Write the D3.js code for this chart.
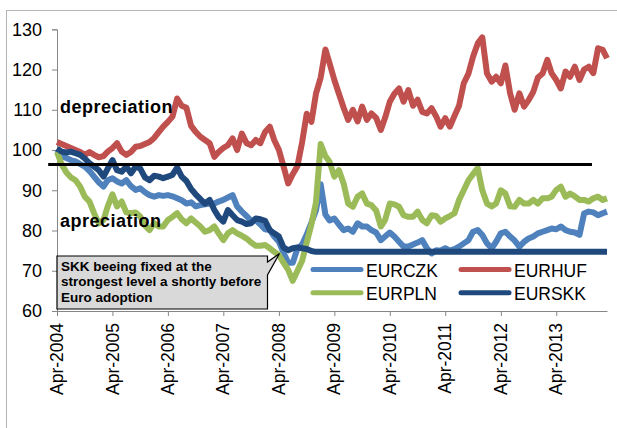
<!DOCTYPE html>
<html>
<head>
<meta charset="utf-8">
<script src="https://cdn.jsdelivr.net/npm/d3@7"></script>
<style>
  body { margin: 0; background: #fff; }
  svg { display: block; font-family: Arial, "Liberation Sans", sans-serif; }
</style>
</head>
<body>
<div id="chart"></div>
<script>
// monthly readings, Apr-2004 .. Mar-2014, index 100 = start
const firstMonth = "2004-04-01";
const lastMonth = "2014-03-01";
const tickYears = [2004, 2005, 2006, 2007, 2008, 2009, 2010, 2011, 2012, 2013];
const yTicks = [60, 70, 80, 90, 100, 110, 120, 130];
const seriesNames = ["EURCZK", "EURHUF", "EURPLN", "EURSKK"];

const eurczk = [
  100, 98.5, 98, 97.5, 97.2, 96.5, 95.9, 94.8, 93.4, 92,
  90.9, 92.5, 93, 92.2, 91.7, 92.5, 91, 90.1, 90.5, 89.5,
  88.8, 88.4, 88.8, 88.6, 88.8, 88.5, 88, 87.5, 86.7, 87,
  86, 86.3, 86.5, 86.7, 86.7, 87.2, 87.6, 88.2, 88.8, 86,
  84.7, 83.6, 82.4, 82.6, 81.5, 80.3, 80.1, 78.5, 77.2, 74.5,
  72, 72, 75.5, 76.5, 79, 82, 85, 91.5, 84, 82.5,
  83, 81.5, 80.1, 80.5, 79.7, 81.8, 81, 81, 80.1, 79.5,
  77.6, 78.5, 79.5, 78.5, 77.2, 76, 76, 76.5, 77, 77.6,
  75.6, 74.3, 75.1, 75, 75.6, 75, 75.4, 76, 76.8, 77.6,
  79.7, 80.1, 78.9, 76.8, 75.6, 77.2, 79.3, 79.7, 78.5, 77.5,
  76, 77.2, 78, 78.5, 79.3, 79.7, 80.1, 80.5, 80.3, 81,
  80.1, 79.7, 79.5, 78.9, 84.2, 84.7, 84.5, 83.8, 84.3, 84.7
];

const eurhuf = [
  102, 101.5, 101, 100.5, 100, 99.5, 98.8, 99.5, 98.8, 98.2,
  98.5, 99.6, 100.5, 101.7, 99.6, 98.8, 99.5, 100.8, 101, 101.5,
  102, 103, 104.5, 105.8, 107, 108.3, 112.8, 111, 110.5, 106,
  104.5, 103.3, 102.5, 101.7, 98.3, 99.5, 100.5, 101.2, 102.9, 100,
  104.1, 101.7, 101.2, 102.5, 101.7, 104.5, 105.8, 102.5, 100, 96,
  91.7, 94, 96, 102, 109, 107, 114, 118, 125, 121.5,
  117.4, 114, 110.5, 107.5, 110, 107.1, 110.8, 107.5, 109.1, 108,
  105, 108, 112, 114, 115.3, 112, 114.9, 111, 112.5, 109.5,
  109.1, 110.4, 108.3, 105.8, 107.9, 105.8, 108.5, 111, 116.6, 119,
  123.2, 126.5, 128, 119, 117, 118.2, 116.6, 121, 114.1, 110,
  114.1, 110.8, 112.4, 114.5, 118, 119, 122.4, 119.1, 117.4, 115.3,
  119.5, 118.2, 120.7, 117.4, 120, 120.7, 119.1, 125.3, 124.9, 122.8
];

const eurpln = [
  99.5, 96.5, 94.5, 93.2, 92.5, 90.9, 88.4, 87.2, 84.3, 81.8,
  82.6, 86, 89, 86, 87.2, 84.5, 84.3, 84.5, 83.5, 81.2,
  80.1, 81.8, 81, 81, 82.6, 83.4, 84.3, 82.8, 81.8, 83,
  82, 81, 79.7, 80.1, 81, 79.3, 77.6, 79.3, 80.1, 79.3,
  78.7, 78, 77, 76.2, 76.2, 76.4, 75.6, 74.7, 73.9, 72,
  70.2, 67.5, 70, 72.5, 77, 81.5, 87, 101.5, 98.5, 97,
  93.4, 95, 91.7, 86.7, 85.9, 88.4, 89.2, 86.7, 86.3, 85,
  81, 82.6, 86.7, 86.5, 85.9, 83.8, 83.4, 83.4, 84.7, 82.6,
  81.8, 83.8, 83.6, 82.2, 83, 83.6, 84.3, 87.6, 90, 92.5,
  94, 95.5, 90, 86.7, 86, 86.7, 90, 89.2, 86, 85.9,
  87.6, 86.7, 86.7, 87.6, 86.7, 88, 88, 88.4, 90.1, 90.9,
  88.4, 89.2, 88.5, 87.6, 87.6, 87.2, 88, 88.4, 87.6, 88
];

const eurskk = [
  100.4, 99.6, 99.4, 99.6, 99.2, 98.8, 97.9, 96.7, 95.9, 95,
  93.4, 95.4, 97.5, 95, 94.6, 95.9, 94.2, 95.9, 95.4, 93.2,
  92.5, 93.6, 93.4, 93, 93.4, 93.8, 95.6, 93.4, 92.3, 90.3,
  89, 87.8, 86.7, 87.6, 85.1, 83.4, 82.2, 85.1, 83.8, 82.6,
  82.2, 81.6, 81.8, 83, 82.8, 82.4, 80.1, 79.3, 78.5, 75.8,
  75.1, 75.6, 75.8, 75.6, 75.4, 74.9, 74.7, 74.7, 74.7, 74.7,
  74.7, 74.7, 74.7, 74.7, 74.7, 74.7, 74.7, 74.7, 74.7, 74.7,
  74.7, 74.7, 74.7, 74.7, 74.7, 74.7, 74.7, 74.7, 74.7, 74.7,
  74.7, 74.7, 74.7, 74.7, 74.7, 74.7, 74.7, 74.7, 74.7, 74.7,
  74.7, 74.7, 74.7, 74.7, 74.7, 74.7, 74.7, 74.7, 74.7, 74.7,
  74.7, 74.7, 74.7, 74.7, 74.7, 74.7, 74.7, 74.7, 74.7, 74.7,
  74.7, 74.7, 74.7, 74.7, 74.7, 74.7, 74.7, 74.7, 74.7, 74.7
];

// black threshold line
const refLevel = 96.4;
const refFrom = "2004-02-03";
const refTo = "2013-11-22";

const noteLines = ["SKK beeing fixed at the", "strongest level a shortly before", "Euro adoption"];

let width = 617;
let height = 428;
let colors = ["#4F81BD", "#C0504D", "#9BBB59", "#1F497D"];
let values = [eurczk, eurhuf, eurpln, eurskk];

let parse = d3.utcParse("%Y-%m-%d");
let start = parse(firstMonth);

let x = d3.scaleUtc()
  .domain([start, parse(lastMonth)])
  .range([57, 607]);

let y = d3.scaleLinear()
  .domain([60, 130])
  .range([311, 29.3]);

let svg = d3.select("#chart").append("svg")
  .attr("width", width)
  .attr("height", height);

// outer chart border
svg.append("rect")
  .attr("x", 6.5).attr("y", 10.5)
  .attr("width", 700).attr("height", 500)
  .attr("fill", "none")
  .attr("stroke", "#b4b4b4");

// y axis
let yAxis = svg.append("g")
  .attr("transform", "translate(57,0)")
  .call(d3.axisLeft(y).tickValues(yTicks).tickSize(5).tickPadding(10));
yAxis.select(".domain").attr("stroke", "#868686");
yAxis.selectAll(".tick line").attr("stroke", "#868686");
yAxis.selectAll("text")
  .attr("fill", "#000")
  .style("font-size", "18px");

// x axis
let xAxis = svg.append("g")
  .attr("transform", "translate(0,311)")
  .call(d3.axisBottom(x)
    .tickValues(tickYears.map(function(yr) { return new Date(Date.UTC(yr, 3, 1)); }))
    .tickFormat(d3.utcFormat("%b-%Y"))
    .tickSize(5)
    .tickSizeOuter(0));
xAxis.select(".domain").attr("stroke", "#868686");
xAxis.selectAll(".tick line").attr("stroke", "#868686");
xAxis.selectAll("text")
  .attr("fill", "#000")
  .attr("transform", "rotate(-90)")
  .attr("x", -12)
  .attr("y", 0)
  .attr("dy", "0.32em")
  .style("text-anchor", "end")
  .style("font-size", "17.5px");

// series lines
let line = d3.line()
  .x(function(d, i) { return x(d3.utcMonth.offset(start, i)); })
  .y(function(d) { return y(d); });

svg.selectAll(".series")
  .data(values)
  .enter().append("path")
  .attr("class", "series")
  .attr("d", line)
  .attr("fill", "none")
  .attr("stroke", function(d, i) { return colors[i]; })
  .attr("stroke-width", 6)
  .attr("stroke-linejoin", "round");

// threshold line
svg.append("line")
  .attr("x1", x(parse(refFrom))).attr("x2", x(parse(refTo)))
  .attr("y1", y(refLevel)).attr("y2", y(refLevel))
  .attr("stroke", "#000")
  .attr("stroke-width", 3);

// labels
svg.append("text")
  .attr("x", 60).attr("y", 112.5)
  .style("font-size", "18px").style("font-weight", "bold")
  .style("letter-spacing", "0.5px")
  .text("depreciation");

svg.append("text")
  .attr("x", 60).attr("y", 226.5)
  .style("font-size", "18px").style("font-weight", "bold")
  .style("letter-spacing", "0.5px")
  .text("apreciation");

// callout box
svg.append("path")
  .attr("d", "M57,256 H267.5 V262 L279.5,253.5 L267.5,275 V309 H57 Z")
  .attr("fill", "#d9d9d9")
  .attr("stroke", "#000")
  .attr("stroke-width", 1.2);

svg.selectAll(".note")
  .data(noteLines)
  .enter().append("text")
  .attr("class", "note")
  .attr("x", 61)
  .attr("y", function(d, i) { return 270.8 + i * 15.5; })
  .style("font-size", "13.5px")
  .style("font-weight", "bold")
  .text(function(d) { return d; });

// legend
let legendPos = [[313, 269.5], [461, 269.5], [313, 292.7], [461, 292.7]];

let legend = svg.selectAll(".legend")
  .data(seriesNames)
  .enter().append("g")
  .attr("class", "legend")
  .attr("transform", function(d, i) { return "translate(" + legendPos[i][0] + "," + legendPos[i][1] + ")"; });

legend.append("line")
  .attr("x1", 0).attr("x2", 48)
  .attr("stroke", function(d, i) { return colors[i]; })
  .attr("stroke-width", 5)
  .attr("stroke-linecap", "round");

legend.append("text")
  .attr("x", 53).attr("y", 7)
  .style("font-size", "17.5px")
  .text(function(d) { return d; });
</script>
</body>
</html>
